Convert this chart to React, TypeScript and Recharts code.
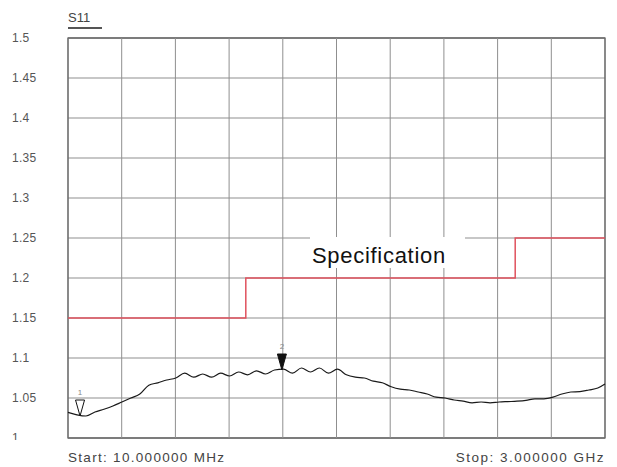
import React from "react";
import {
  LineChart,
  Line,
  XAxis,
  YAxis,
  CartesianGrid,
  ReferenceArea,
  ReferenceDot,
  ReferenceLine,
} from "recharts";

// sweep points, MHz
const traceFreq = [
  10, 60, 110, 160, 210, 260, 310, 360, 410, 460,
  510, 560, 610, 660, 710, 760, 810, 860, 910, 960,
  1010, 1060, 1110, 1160, 1210, 1260, 1310, 1360, 1410, 1460,
  1510, 1560, 1610, 1660, 1710, 1760, 1810, 1860, 1910, 1960,
  2010, 2060, 2110, 2160, 2210, 2260, 2310, 2360, 2410, 2460,
  2510, 2560, 2610, 2660, 2710, 2760, 2810, 2860, 2910, 2960, 3000,
];

// S11 (VSWR)
const traceSwr = [
  1.032, 1.029, 1.0275, 1.0325, 1.036, 1.04, 1.045, 1.05, 1.055, 1.066,
  1.069, 1.0725, 1.075, 1.081, 1.076, 1.08, 1.076, 1.081, 1.0775, 1.0825,
  1.079, 1.084, 1.08, 1.085, 1.086, 1.081, 1.0875, 1.0825, 1.0875, 1.081,
  1.086, 1.079, 1.076, 1.075, 1.071, 1.069, 1.064, 1.061, 1.06, 1.0575,
  1.055, 1.051, 1.05, 1.0475, 1.046, 1.044, 1.045, 1.044, 1.045, 1.0455,
  1.046, 1.047, 1.049, 1.049, 1.051, 1.055, 1.0575, 1.058, 1.06, 1.0625, 1.0675,
];

// spec limit steps
const specFreq = [10, 1000, 2500, 3000];
const specLimit = [1.15, 1.2, 1.25, 1.25];

const xTicks = [10, 309, 608, 907, 1206, 1505, 1804, 2103, 2402, 2701, 3000];
const yTicks = [1, 1.05, 1.1, 1.15, 1.2, 1.25, 1.3, 1.35, 1.4, 1.45, 1.5];

const markers = [
  { id: "1", freq: 77, swr: 1.0275, filled: false },
  { id: "2", freq: 1201, swr: 1.085, filled: true },
];

const traceData = traceFreq.map((f, i) => ({ f, v: traceSwr[i] }));
const specData = specFreq.map((f, i) => ({ f, v: specLimit[i] }));

const font = "Arial, 'Liberation Sans', sans-serif";
const gridColor = "#8f8f8f";

const YTick = (props: any) => {
  const { y, payload } = props;
  return (
    <text x={12} y={y} dy={4} textAnchor="start" fontSize={12} letterSpacing={0.3} fill="#555" fontFamily={font}>
      {payload.value}
    </text>
  );
};

const markerShape = (m: any) => (props: any) => {
  const { cx, cy } = props;
  return (
    <g>
      <path
        d={`M${cx - 4.5},${cy - 16} L${cx + 4.5},${cy - 16} L${cx},${cy} Z`}
        fill={m.filled ? "#111" : "#fff"}
        stroke="#111"
        strokeWidth={1}
      />
      <text x={cx} y={cy - 21} textAnchor="middle" fontSize={8} fill="#888" fontFamily={font}>
        {m.id}
      </text>
    </g>
  );
};

export default function App() {
  return (
    <div style={{ position: "absolute", left: 0, top: 0, width: 617, height: 467, background: "#fff", fontFamily: font }}>
      <LineChart width={617} height={467} margin={{ top: 38, right: 12, bottom: 29, left: 0 }}>
        <CartesianGrid stroke={gridColor} strokeWidth={1} vertical={false} />
        <XAxis
          type="number"
          dataKey="f"
          domain={[10, 3000]}
          ticks={xTicks}
          tick={false}
          axisLine={false}
          tickLine={false}
          height={0}
        />
        <YAxis
          type="number"
          domain={[1, 1.5]}
          ticks={yTicks}
          tick={<YTick />}
          axisLine={false}
          tickLine={false}
          width={68}
        />
        {xTicks.map((t) => (
          <ReferenceLine
            key={t}
            segment={[{ x: t, y: 1 }, { x: t, y: 1.5 }]}
            stroke={gridColor}
            strokeWidth={1}
          />
        ))}
        <ReferenceArea x1={10} x2={3000} y1={1} y2={1.5} fill="none" stroke="#333" strokeWidth={1.2} />
        <Line
          data={specData}
          dataKey="v"
          type="stepAfter"
          stroke="#e0525e"
          strokeWidth={1.5}
          dot={false}
          isAnimationActive={false}
        />
        <Line
          data={traceData}
          dataKey="v"
          type="monotone"
          stroke="#1a1a1a"
          strokeWidth={1.2}
          dot={false}
          isAnimationActive={false}
        />
        {markers.map((m) => (
          <ReferenceDot key={m.id} x={m.freq} y={m.swr} r={0} shape={markerShape(m)} />
        ))}
      </LineChart>
      <div style={{ position: "absolute", left: 0, top: 440, width: 617, height: 27, background: "#fff" }} />
      <div style={{ position: "absolute", left: 68, top: 9, fontSize: 13, color: "#444", borderBottom: "2px solid #555", width: 34, lineHeight: "18px" }}>
        S11
      </div>
      <div style={{ position: "absolute", left: 310, top: 237, width: 155, height: 31, background: "#fff", fontSize: 22, color: "#111", lineHeight: "38px", letterSpacing: 0.7, paddingLeft: 2, boxSizing: "border-box" }}>
        Specification
      </div>
      <div style={{ position: "absolute", left: 68, top: 450, fontSize: 13.5, color: "#444", letterSpacing: 1.3 }}>
        Start: 10.000000 MHz
      </div>
      <div style={{ position: "absolute", right: 12, top: 450, fontSize: 13.5, color: "#444", letterSpacing: 1.5 }}>
        Stop: 3.000000 GHz
      </div>
    </div>
  );
}
